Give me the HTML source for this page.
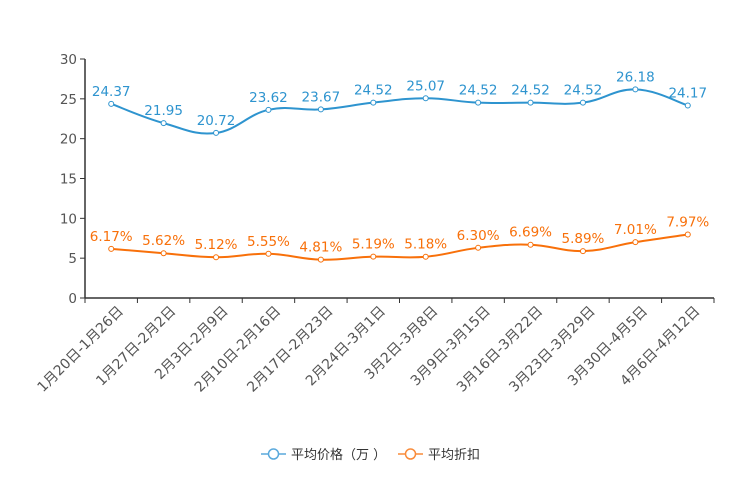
<!DOCTYPE html>
<html><head><meta charset="utf-8"><style>
body{margin:0;background:#fff}
svg{display:block;font-family:"DejaVu Sans","Noto Sans CJK SC",sans-serif}
</style></head><body>
<svg id="c" width="744" height="496"></svg>
<script>
const categories=["1月20日-1月26日","1月27日-2月2日","2月3日-2月9日","2月10日-2月16日","2月17日-2月23日","2月24日-3月1日","3月2日-3月8日","3月9日-3月15日","3月16日-3月22日","3月23日-3月29日","3月30日-4月5日","4月6日-4月12日"];
const priceValues=[24.37,21.95,20.72,23.62,23.67,24.52,25.07,24.52,24.52,24.52,26.18,24.17];
const discountValues=[6.17,5.62,5.12,5.55,4.81,5.19,5.18,6.30,6.69,5.89,7.01,7.97];
const yTicks=[0,5,10,15,20,25,30];
const NS="http://www.w3.org/2000/svg";
const svg=document.getElementById('c');
const L=85,R=714,T=59,B=298,ymax=30;
const bw=(R-L)/categories.length;
const xs=i=>L+bw*(i+0.5);
const ys=v=>B-(v/ymax)*(B-T);
function mk(tag,attrs,parent){const e=document.createElementNS(NS,tag);for(const k in attrs)e.setAttribute(k,attrs[k]);(parent||svg).appendChild(e);return e;}
const yax=mk('g',{});


mk('line',{x1:L,y1:T,x2:L,y2:B,stroke:'#333','stroke-width':1.5},yax);
yTicks.forEach(t=>{
  mk('line',{x1:L-5,y1:ys(t),x2:L,y2:ys(t),stroke:'#333'},yax);
  const tx=mk('text',{x:L-8,y:ys(t)+5,'text-anchor':'end','font-size':13.5,fill:'#555'},yax);
  tx.textContent=t;
  
  
});
const xax=mk('g',{});


mk('line',{x1:L,y1:B,x2:R,y2:B,stroke:'#333','stroke-width':1.5},xax);
for(let i=0;i<=categories.length;i++){const x=L+bw*i;mk('line',{x1:x,y1:B,x2:x,y2:B+5,stroke:'#333'},xax);}
categories.forEach((c,i)=>{
  const x=xs(i)+6,y=B+7;
  const tx=mk('text',{x:x,y:y,'text-anchor':'end','font-size':14,fill:'#555',transform:`rotate(-45 ${x} ${y})`,'dominant-baseline':'hanging'},xax);
  tx.textContent=c;
  
  
});
function smooth(pts){
  let d=`M${pts[0][0]},${pts[0][1]}`;
  for(let i=0;i<pts.length-1;i++){
    const p0=pts[i-1]||pts[i],p1=pts[i],p2=pts[i+1],p3=pts[i+2]||p2,k=0.2;
    d+=` C${p1[0]+(p2[0]-p0[0])*k},${p1[1]+(p2[1]-p0[1])*k} ${p2[0]-(p3[0]-p1[0])*k},${p2[1]-(p3[1]-p1[1])*k} ${p2[0]},${p2[1]}`;
  }
  return d;
}
function series(vals,color,name,fmt){
  const g=mk('g',{});
  
  
  const pts=vals.map((v,i)=>[xs(i),ys(v)]);
  mk('path',{d:smooth(pts),fill:'none',stroke:color,'stroke-width':2},g);
  pts.forEach((p,i)=>{
    const c=mk('circle',{cx:p[0],cy:p[1],r:2.5,fill:'#fff',stroke:color,'stroke-width':1},g);
    
    
    const t=mk('text',{x:p[0],y:p[1]-8,'text-anchor':'middle','font-size':13.5,fill:color},g);
    t.textContent=fmt(vals[i]);
    
    
  });
}
series(priceValues,'#2e94cf','price-series',v=>v.toFixed(2));
series(discountValues,'#f8700a','discount-series',v=>v.toFixed(2)+'%');
function legend(x,color,label){
  const g=mk('g',{});
  
  
  mk('line',{x1:x,y1:454,x2:x+25,y2:454,stroke:color,'stroke-width':1.5},g);
  mk('circle',{cx:x+12.5,cy:454,r:5,fill:'#fff',stroke:color,'stroke-width':1.5},g);
  const t=mk('text',{x:x+30,y:459,'font-size':13,fill:'#333'},g);
  t.textContent=label;
}
legend(261,'#5aa9dc','平均价格（万 ）');
legend(398,'#f98b3a','平均折扣');
</script>
</body></html>
